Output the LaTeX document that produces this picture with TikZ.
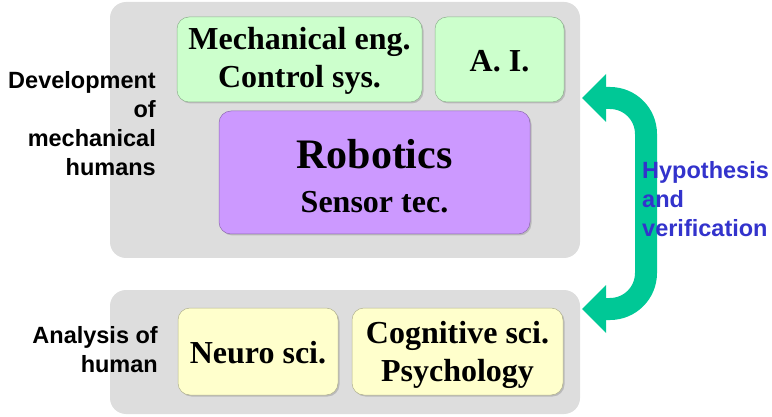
\documentclass[tikz,border=0pt]{standalone}
\usepackage{fontspec}
\setmainfont{Liberation Serif}
\setsansfont{Liberation Sans}
\usetikzlibrary{shadows}
\definecolor{panelgray}{HTML}{DDDDDD}
\definecolor{boxgreen}{HTML}{CCFFCC}
\definecolor{boxpurple}{HTML}{CC99FF}
\definecolor{boxyellow}{HTML}{FFFFCC}
\definecolor{arrowgreen}{HTML}{00C896}
\definecolor{textblue}{HTML}{3333CC}
\begin{document}
\begin{tikzpicture}[x=1pt,y=-1pt,
  panel/.style={fill=panelgray, rounded corners=16pt, inner sep=0pt},
  topic/.style={fill=#1, draw=#1!70!black, line width=0.5pt, rounded corners=12pt,
    inner sep=0pt,
    drop shadow={shadow xshift=1.5pt, shadow yshift=-1.5pt, fill=black!40, opacity=0.5}},
  topictext/.style={inner sep=0pt, align=center,
    font=\bfseries\fontsize{32}{37.5}\selectfont},
  sidelabel/.style={inner sep=0pt, font=\sffamily\bfseries\fontsize{23.5}{29}\selectfont},
  loop/.style={line width=22pt, draw=arrowgreen, rounded corners=36pt},
  loophead/.style={fill=arrowgreen}]
\useasboundingbox (0,0) rectangle (772,417);
% panels
\node[panel, minimum width=470pt, minimum height=256pt] (top) at (345,130) {};
\node[panel, minimum width=470pt, minimum height=124pt] (bottom) at (345,352) {};
% topic boxes
\node[topic=boxgreen, minimum width=245pt, minimum height=85pt] (mech) at (299.5,59.5) {};
\node[topictext] (mechtext) at (299.5,61) {Mechanical eng.\\Control sys.};
\node[topic=boxgreen, minimum width=129pt, minimum height=85pt] (ai) at (499.5,59.5) {};
\node[topictext] (aitext) at (499.5,61) {A. I.};
\node[topic=boxpurple, minimum width=311pt, minimum height=123pt] (rob) at (374.5,172.5) {};
\node[topictext] (robtext) at (374.5,176)
  {{\fontsize{42}{46}\selectfont Robotics}\\[6pt]Sensor tec.};
\node[topic=boxyellow, minimum width=160pt, minimum height=87pt] (neuro) at (258,351.5) {};
\node[topictext] (neurotext) at (258,353) {Neuro sci.};
\node[topic=boxyellow, minimum width=211pt, minimum height=87pt] (cog) at (457.5,351.5) {};
\node[topictext] (cogtext) at (457.5,355) {Cognitive sci.\\Psychology};
% side labels
\node[sidelabel, anchor=east, align=right] (dev) at (156,124)
  {Development\\of\\mechanical\\humans};
\node[sidelabel, anchor=east, align=right] (ana) at (158,349.5)
  {Analysis of\\human};
% loop arrow
\coordinate (a1) at (606,98);
\coordinate (c1) at (646,98);
\coordinate (c2) at (646,309);
\coordinate (a2) at (606,309);
\draw[loop] (a1) -- (c1) -- (c2) -- (a2);
\fill[loophead] (582,98) -- (606,74) -- (606,122) -- cycle;
\fill[loophead] (582,309) -- (606,285) -- (606,333) -- cycle;
\node[sidelabel, anchor=west, align=left, text=textblue] (hyp) at (642,199.5)
  {Hypothesis\\and\\verification};
\end{tikzpicture}
\end{document}
